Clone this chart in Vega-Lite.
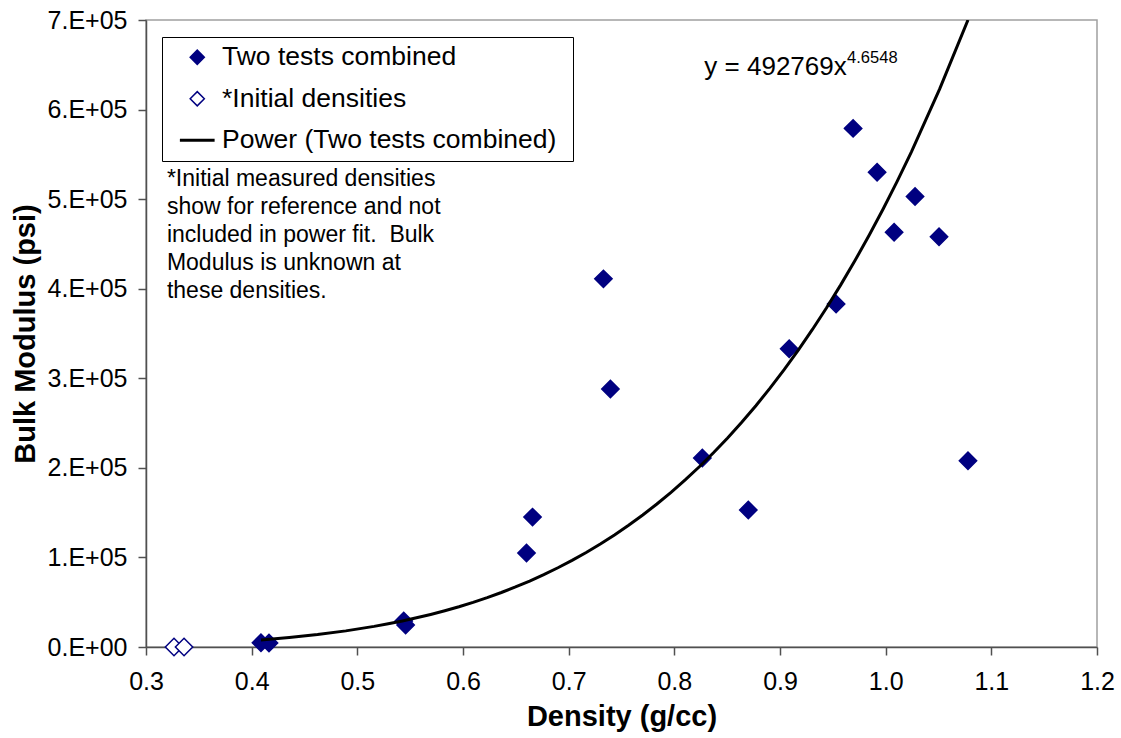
{
  "$schema": "https://vega.github.io/schema/vega-lite/v6.json",
  "width": 951,
  "height": 627,
  "autosize": {"type": "none"},
  "padding": {"left": 146, "top": 20, "right": 24, "bottom": 91},
  "background": "white",
  "config": {
    "font": "Liberation Sans",
    "view": {"stroke": "#a0a0a0", "strokeWidth": 1.5},
    "axis": {
      "grid": false,
      "domainColor": "#505050",
      "domainWidth": 1.5,
      "tickColor": "#505050",
      "tickWidth": 1.5,
      "tickSize": 8,
      "labelColor": "#000000",
      "labelFontSize": 25,
      "labelFont": "Liberation Sans",
      "titleFont": "Liberation Sans",
      "titleFontSize": 29,
      "titleFontWeight": "bold",
      "titleColor": "#000000"
    },
    "legend": {
      "orient": "none",
      "legendX": 16,
      "legendY": 17,
      "padding": 7,
      "strokeColor": "#000000",
      "fillColor": "#ffffff",
      "labelFontSize": 26.5,
      "labelFont": "Liberation Sans",
      "labelColor": "#000000",
      "labelOffset": 11.5,
      "labelLimit": 600,
      "symbolSize": 200,
      "symbolStrokeWidth": 1.5,
      "symbolOffset": 15,
      "rowPadding": 14.5,
      "titleOrient": "right",
      "titlePadding": 10,
      "titleFontSize": 20
    }
  },
  "datasets": {
    "points": [
      {"Density": 0.4088, "Bulk": 4800, "series": "Two tests combined"},
      {"Density": 0.4164, "Bulk": 4500, "series": "Two tests combined"},
      {"Density": 0.5439, "Bulk": 29000, "series": "Two tests combined"},
      {"Density": 0.5457, "Bulk": 24500, "series": "Two tests combined"},
      {"Density": 0.6601, "Bulk": 105000, "series": "Two tests combined"},
      {"Density": 0.6658, "Bulk": 145000, "series": "Two tests combined"},
      {"Density": 0.7329, "Bulk": 411000, "series": "Two tests combined"},
      {"Density": 0.7395, "Bulk": 288000, "series": "Two tests combined"},
      {"Density": 0.8265, "Bulk": 211000, "series": "Two tests combined"},
      {"Density": 0.8700, "Bulk": 153000, "series": "Two tests combined"},
      {"Density": 0.9087, "Bulk": 333000, "series": "Two tests combined"},
      {"Density": 0.9531, "Bulk": 383000, "series": "Two tests combined"},
      {"Density": 0.9692, "Bulk": 579000, "series": "Two tests combined"},
      {"Density": 0.9919, "Bulk": 530000, "series": "Two tests combined"},
      {"Density": 1.0080, "Bulk": 463000, "series": "Two tests combined"},
      {"Density": 1.0278, "Bulk": 503000, "series": "Two tests combined"},
      {"Density": 1.0505, "Bulk": 458000, "series": "Two tests combined"},
      {"Density": 1.0779, "Bulk": 208000, "series": "Two tests combined"},
      {"Density": 0.3265, "Bulk": 0, "series": "*Initial densities"},
      {"Density": 0.3360, "Bulk": 0, "series": "*Initial densities"}
    ],
    "note": [
      {"label": "*Initial measured densities\nshow for reference and not\nincluded in power fit.\u00a0 Bulk\nModulus is unknown at\nthese densities."}
    ],
    "equation": [
      {"label": "y = 492769x"}
    ],
    "exponent": [
      {"label": "4.6548"}
    ]
  },
  "layer": [
    {
      "data": {"name": "points"},
      "mark": {"type": "point", "size": 300, "opacity": 1, "strokeWidth": 1.5},
      "encoding": {
        "x": {
          "field": "Density",
          "type": "quantitative",
          "scale": {"domain": [0.3, 1.2], "nice": false, "zero": false},
          "axis": {
            "title": "Density (g/cc)",
            "values": [0.3, 0.4, 0.5, 0.6, 0.7, 0.8, 0.9, 1.0, 1.1, 1.2],
            "format": ".1f",
            "labelPadding": 14,
            "titlePadding": 8,
            "labelFlush": false
          }
        },
        "y": {
          "field": "Bulk",
          "type": "quantitative",
          "scale": {"domain": [0, 700000], "nice": false},
          "axis": {
            "title": "Bulk Modulus (psi)",
            "values": [0, 100000, 200000, 300000, 400000, 500000, 600000, 700000],
            "labelExpr": "datum.value == 0 ? '0.E+00' : format(datum.value / 100000, 'd') + '.E+05'",
            "labelPadding": 11,
            "titlePadding": 7,
            "labelFlush": false
          }
        },
        "shape": {
          "field": "series",
          "type": "nominal",
          "scale": {
            "domain": ["Two tests combined", "*Initial densities", "Power (Two tests combined)"],
            "range": ["diamond", "diamond", "M-2.35,-0.09H2.35V0.09H-2.35Z"]
          },
          "legend": {"title": " "}
        },
        "fill": {
          "field": "series",
          "type": "nominal",
          "scale": {
            "domain": ["Two tests combined", "*Initial densities", "Power (Two tests combined)"],
            "range": ["#000080", "#ffffff", "#000000"]
          },
          "legend": {"title": " "}
        },
        "stroke": {
          "field": "series",
          "type": "nominal",
          "scale": {
            "domain": ["Two tests combined", "*Initial densities", "Power (Two tests combined)"],
            "range": ["#000080", "#000080", "#000000"]
          },
          "legend": {"title": " "}
        }
      }
    },
    {
      "data": {"name": "points"},
      "transform": [
        {"filter": "datum.series === 'Two tests combined'"},
        {"regression": "Bulk", "on": "Density", "method": "pow"}
      ],
      "mark": {"type": "line", "strokeWidth": 3, "clip": true},
      "encoding": {
        "x": {"field": "Density", "type": "quantitative"},
        "y": {"field": "Bulk", "type": "quantitative"},
        "stroke": {"datum": "Power (Two tests combined)", "type": "nominal", "legend": null}
      }
    },
    {
      "data": {"name": "note"},
      "mark": {
        "type": "text",
        "align": "left",
        "baseline": "top",
        "fontSize": 23,
        "lineHeight": 28,
        "lineBreak": "\n",
        "color": "#000000"
      },
      "encoding": {
        "x": {"datum": 0.3198, "type": "quantitative"},
        "y": {"datum": 534500, "type": "quantitative"},
        "text": {"field": "label"}
      }
    },
    {
      "data": {"name": "equation"},
      "mark": {
        "type": "text",
        "align": "left",
        "baseline": "alphabetic",
        "fontSize": 26,
        "color": "#000000"
      },
      "encoding": {
        "x": {"datum": 0.8284, "type": "quantitative"},
        "y": {"datum": 638600, "type": "quantitative"},
        "text": {"field": "label"}
      }
    },
    {
      "data": {"name": "exponent"},
      "mark": {
        "type": "text",
        "align": "left",
        "baseline": "alphabetic",
        "fontSize": 16.5,
        "color": "#000000"
      },
      "encoding": {
        "x": {"datum": 0.9635, "type": "quantitative"},
        "y": {"datum": 651600, "type": "quantitative"},
        "text": {"field": "label"}
      }
    }
  ]
}
